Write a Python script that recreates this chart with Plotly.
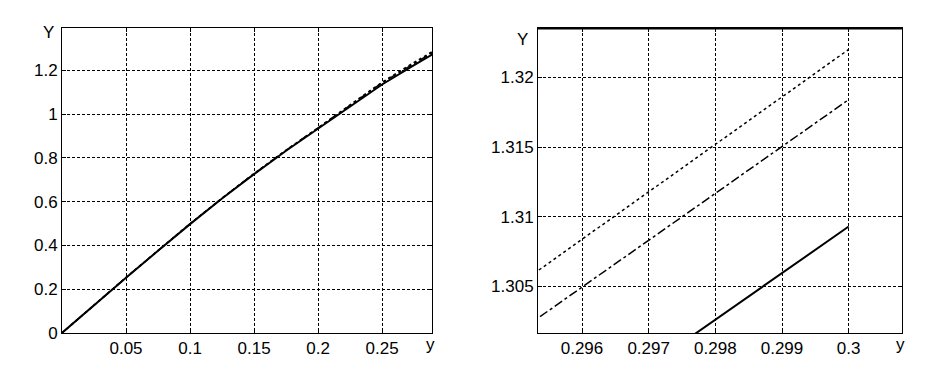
import plotly.graph_objects as go

# ---- data ----
y_arg = [0.0, 0.025, 0.05, 0.075, 0.1, 0.125, 0.15, 0.175, 0.2, 0.225, 0.25, 0.275, 0.285, 0.2953, 0.3]
Y_dotted = [0.0, 0.1271, 0.2533, 0.3765, 0.4988, 0.6158, 0.7280, 0.8352, 0.9364, 1.0418, 1.1455, 1.2360, 1.2710, 1.3060, 1.3220]
Y_dashdot = [0.0, 0.1270, 0.2530, 0.3760, 0.4980, 0.6150, 0.7270, 0.8340, 0.9350, 1.0400, 1.1426, 1.2326, 1.2676, 1.3026, 1.3184]
Y_solid = [0.0, 0.1268, 0.2525, 0.3753, 0.4970, 0.6137, 0.7253, 0.8320, 0.9325, 1.0368, 1.1350, 1.2236, 1.2586, 1.2936, 1.3093]

left_xticks = [0.05, 0.1, 0.15, 0.2, 0.25]
left_xlabels = ["0.05", "0.1", "0.15", "0.2", "0.25"]
left_yticks = [0, 0.2, 0.4, 0.6, 0.8, 1.0, 1.2]
left_ylabels = ["0", "0.2", "0.4", "0.6", "0.8", "1", "1.2"]
right_xticks = [0.296, 0.297, 0.298, 0.299, 0.3]
right_xlabels = ["0.296", "0.297", "0.298", "0.299", "0.3"]
right_yticks = [1.305, 1.31, 1.315, 1.32]
right_ylabels = ["1.305", "1.31", "1.315", "1.32"]

FONT = "Liberation Sans, Arial, sans-serif"
OFF = 8                      # default page margin of the body
W, H = 947 - 2 * OFF, 384 - 2 * OFF

def px(x):
    return (x - OFF) / W

def py(y):
    return 1 - (y - OFF) / H

fig = go.Figure()
styles = [(Y_dotted, "dot", 1.5), (Y_dashdot, "dashdot", 1.5), (Y_solid, "solid", 2)]
for xa, ya in (("x", "y"), ("x2", "y2")):
    for vals, dash, w in styles:
        fig.add_trace(go.Scatter(x=y_arg, y=vals, mode="lines", xaxis=xa, yaxis=ya,
                                 line=dict(color="black", dash=dash, width=w),
                                 showlegend=False, hoverinfo="skip"))

ydom = [py(342), py(29)]
common = dict(showline=True, linecolor="black", linewidth=1, mirror="ticks",
              ticks="inside", ticklen=4, tickcolor="black",
              showgrid=True, gridcolor="black", gridwidth=1, griddash="3px,2px",
              zeroline=False, tickfont=dict(family=FONT, size=17, color="black"))

fig.update_layout(
    width=W, height=H, margin=dict(l=0, r=0, t=0, b=0),
    paper_bgcolor="white", plot_bgcolor="white",
    xaxis=dict(domain=[px(62), px(432)], range=[0, 0.289], tickvals=left_xticks,
               ticktext=left_xlabels, anchor="y", **common),
    yaxis=dict(domain=ydom, range=[0, 1.391], tickvals=left_yticks,
               ticktext=left_ylabels, anchor="x", **common),
    xaxis2=dict(domain=[px(538), px(902)], range=[0.29534, 0.30080], tickvals=right_xticks,
                ticktext=right_xlabels, anchor="y2", **common),
    yaxis2=dict(domain=ydom, range=[1.30167, 1.32351], tickvals=right_yticks,
                ticktext=right_ylabels, anchor="x2", **common),
)

# thicker top frame on the right panel
fig.add_shape(type="line", xref="x2 domain", yref="y2 domain", x0=0, x1=1, y0=1, y1=1,
              line=dict(color="black", width=2))

def lab(text, x, y):
    fig.add_annotation(text=text, xref="paper", yref="paper", x=px(x), y=py(y),
                       xanchor="center", yanchor="middle", showarrow=False,
                       font=dict(family=FONT, size=17, color="black"))

lab("Y", 48, 33)
lab("y", 430, 354)
lab("Y", 522, 40)
lab("y", 900, 354)

fig.write_html("out.html")
